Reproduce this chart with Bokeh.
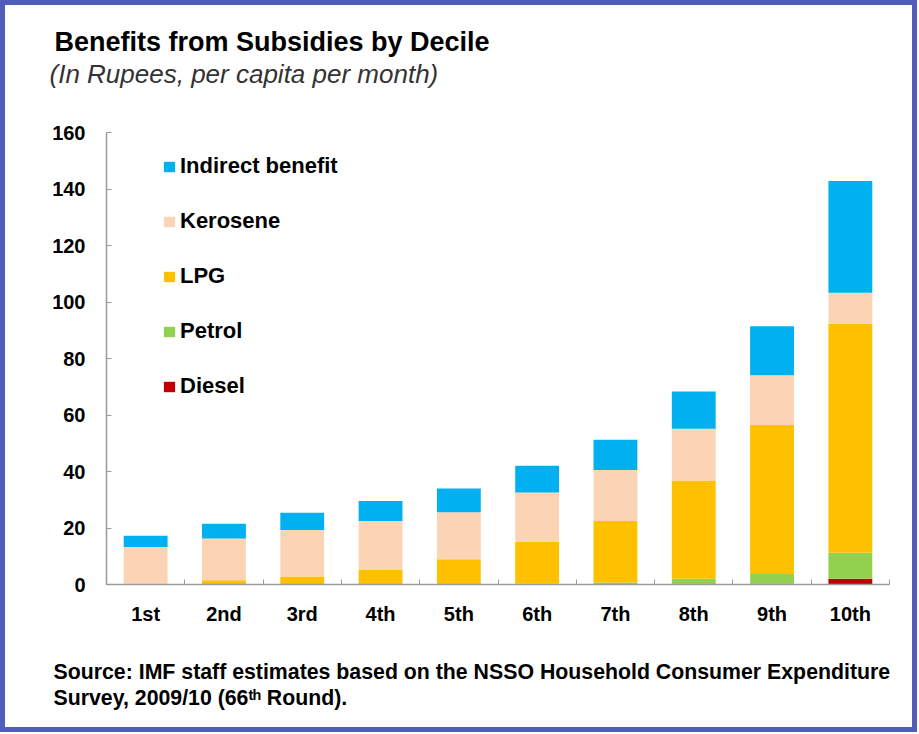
from bokeh.plotting import figure
from bokeh.models import (Legend, LegendItem, LinearAxis, CategoricalAxis, Title,
                          Range1d, FactorRange, FixedTicker, ColumnDataSource)
from bokeh.embed import file_html
from bokeh.resources import INLINE

# ---------------- data ----------------
deciles = ["1st", "2nd", "3rd", "4th", "5th", "6th", "7th", "8th", "9th", "10th"]
diesel = [0.0, 0.0, 0.0, 0.0, 0.0, 0.0, 0.0, 0.2, 0.3, 2.0]
petrol = [0.0, 0.0, 0.0, 0.0, 0.1, 0.3, 0.7, 1.8, 3.4, 9.2]
lpg = [0.3, 1.5, 2.8, 5.2, 8.8, 14.8, 21.8, 34.8, 52.8, 81.1]
kerosene = [13.0, 14.8, 16.5, 17.3, 16.7, 17.5, 18.0, 18.3, 17.6, 11.0]
indirect = [4.0, 5.2, 6.1, 7.1, 8.4, 9.4, 10.7, 13.2, 17.3, 39.5]

series = ["Diesel", "Petrol", "LPG", "Kerosene", "Indirect benefit"]
colors = ["#C00000", "#92D050", "#FFC000", "#FBD3B5", "#00B0F0"]
y_ticks = [0, 20, 40, 60, 80, 100, 120, 140, 160]

title_text = "Benefits from Subsidies by Decile"
subtitle_text = "(In Rupees, per capita per month)"
source_1 = "Source: IMF staff estimates based on the NSSO Household Consumer Expenditure"
source_2 = "Survey, 2009/10 (66\u1d57\u02b0 Round)."

FONT = "Liberation Sans"
AXIS_GRAY = "#9A9A9A"

src = ColumnDataSource(data=dict(decile=deciles, Diesel=diesel, Petrol=petrol, LPG=lpg,
                                 Kerosene=kerosene, **{"Indirect benefit": indirect}))

p = figure(x_range=FactorRange(*deciles, range_padding=0), y_range=Range1d(0, 160),
           width=917, height=732, output_backend="svg", toolbar_location=None,
           title=None, x_axis_location=None,
           min_border_left=101, min_border_right=33,
           min_border_top=127, min_border_bottom=153)
p.styles = {"border": "5px solid #4F5EB8", "overflow": "hidden"}
p.outline_line_color = None
p.xgrid.visible = False
p.ygrid.visible = False
p.background_fill_color = "white"
p.border_fill_color = "white"

rs = p.vbar_stack(series, x="decile", width=0.56, color=colors, line_color=None, source=src)

# y axis
ya = p.yaxis[0]
ya.ticker = FixedTicker(ticks=y_ticks)
ya.minor_tick_line_color = None
ya.major_tick_in = 5
ya.major_tick_out = 0
ya.major_tick_line_color = AXIS_GRAY
ya.axis_line_color = AXIS_GRAY
ya.axis_line_width = 1.5
ya.major_label_text_font = FONT
ya.major_label_text_font_style = "bold"
ya.major_label_text_font_size = "20px"
ya.major_label_text_color = "black"
ya.major_label_standoff = 21


def spacer(gap):
    """An invisible axis used only to reserve vertical space in a side panel."""
    ax = LinearAxis(ticker=FixedTicker(ticks=[len(deciles)]))
    ax.major_tick_out = gap
    ax.major_tick_in = 0
    ax.major_tick_line_color = "white"
    ax.minor_tick_line_color = None
    ax.axis_line_color = None
    ax.major_label_text_font_size = "1px"
    ax.major_label_text_color = None
    ax.major_label_standoff = 0
    return ax


# boundary ticks axis (ticks between categories, in the factor range's synthetic coordinates)
ba = LinearAxis(ticker=FixedTicker(ticks=list(range(len(deciles) + 1))))
ba.major_tick_in = 5
ba.major_tick_out = 0
ba.minor_tick_line_color = None
ba.major_tick_line_color = AXIS_GRAY
ba.axis_line_color = AXIS_GRAY
ba.axis_line_width = 1.5
ba.major_label_text_font_size = "1px"
ba.major_label_text_color = None
ba.major_label_standoff = 0
p.add_layout(ba, "below")

ca = CategoricalAxis()
ca.axis_line_color = None
ca.major_tick_line_color = None
ca.minor_tick_line_color = None
ca.major_label_text_font = FONT
ca.major_label_text_font_style = "bold"
ca.major_label_text_font_size = "20px"
ca.major_label_text_color = "black"
ca.major_label_standoff = 12
p.add_layout(ca, "below")

p.add_layout(spacer(30), "below")

# source lines below the axis
p.add_layout(Title(text=source_1, align="left", offset=-53, standoff=0,
                   text_font=FONT, text_font_style="bold", text_font_size="21.3px",
                   text_color="black"), "below")
p.add_layout(Title(text=source_2, align="left", offset=-53, standoff=0,
                   text_font=FONT, text_font_style="bold", text_font_size="21.3px",
                   text_color="black"), "below")

# gap above the frame, then subtitle, then title
p.add_layout(spacer(44), "above")
p.add_layout(Title(text=subtitle_text, align="left", offset=-57, standoff=0,
                   text_font=FONT, text_font_style="italic", text_font_size="26px",
                   text_color="#333333"), "above")
p.add_layout(Title(text=title_text, align="left", offset=-52, standoff=0,
                   text_font=FONT, text_font_style="bold", text_font_size="27px",
                   text_color="black"), "above")

# legend
items = [LegendItem(label=s, renderers=[r]) for s, r in zip(series, rs)][::-1]
leg = Legend(items=items, location=(56, 185), orientation="vertical",
             glyph_width=14, glyph_height=13, label_height=26, spacing=29,
             label_standoff=4, padding=0, margin=0,
             background_fill_alpha=0, border_line_color=None,
             label_text_font=FONT, label_text_font_style="bold",
             label_text_font_size="22px", label_text_color="black")
p.add_layout(leg, "center")

out = open("out.html", "w")
out.write(file_html(p, INLINE))
out.close()
